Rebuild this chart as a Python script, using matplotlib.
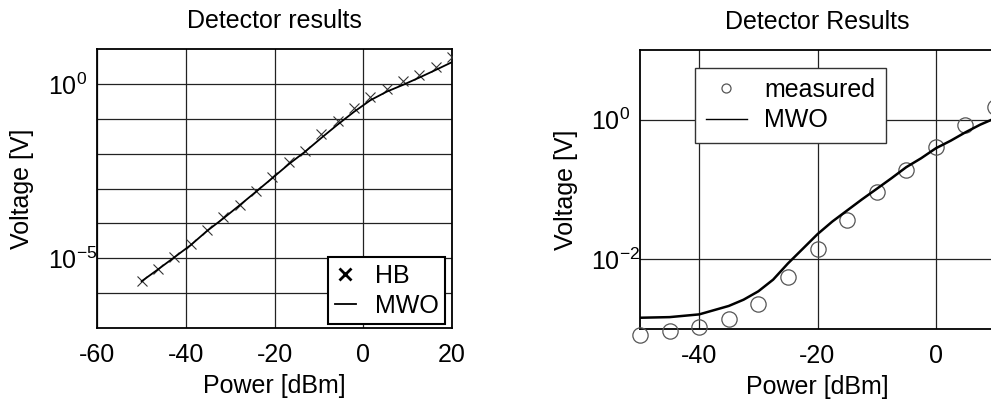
import matplotlib
matplotlib.use("Agg")
import matplotlib.pyplot as plt
from matplotlib.ticker import FixedLocator, FixedFormatter, NullLocator

# ---- left panel: harmonic-balance simulation vs. MWO --------------------
hb_power = [-50.0, -46.3, -42.6, -38.9, -35.3, -31.6, -27.9, -24.2, -20.5, -16.8,
            -13.2, -9.5, -5.8, -2.1, 1.6, 5.3, 8.9, 12.6, 16.3, 20.0]
hb_voltage = [2.3e-6, 4.9e-6, 1.12e-5, 2.57e-5, 6.3e-5, 1.51e-4, 3.47e-4, 8.5e-4,
              2.14e-3, 5.6e-3, 1.17e-2, 3.55e-2, 8.5e-2, 0.20, 0.43, 0.71, 1.17,
              1.82, 3.1, 5.75]
mwo_left_voltage = [2.19e-6, 4.8e-6, 1.07e-5, 2.4e-5, 6.0e-5, 1.38e-4, 3.31e-4,
                    8.1e-4, 2.0e-3, 5.0e-3, 1.12e-2, 2.8e-2, 6.8e-2, 0.158, 0.34,
                    0.60, 0.93, 1.51, 2.5, 4.2]

# ---- right panel: measured detector output vs. MWO ----------------------
meas_power = [-50, -45, -40, -35, -30, -25, -20, -15, -10, -5, 0, 5, 10]
meas_voltage = [8.3e-4, 9.3e-4, 1.07e-3, 1.38e-3, 2.3e-3, 5.5e-3, 1.41e-2, 3.7e-2,
                9.3e-2, 0.19, 0.41, 0.85, 1.51]
mwo_right_power = [-50, -45, -40, -35, -32.5, -30, -27.5, -25, -22.5, -20, -17.5,
                   -15, -12.5, -10, -7.5, -5, -2.5, 0, 2.5, 5, 7.5, 10]
mwo_right_voltage = [1.45e-3, 1.48e-3, 1.62e-3, 2.14e-3, 2.63e-3, 3.47e-3, 5.1e-3,
                     8.7e-3, 1.41e-2, 2.29e-2, 3.47e-2, 5.0e-2, 7.2e-2, 0.102, 0.145,
                     0.209, 0.28, 0.39, 0.50, 0.66, 0.85, 1.05]

left_xticks = [-60, -40, -20, 0, 20]
left_yticks = [1e-6, 1e-5, 1e-4, 1e-3, 1e-2, 1e-1, 1e0]
left_yticklabels = ["", r"$\mathregular{10^{-5}}$", "", "", "", "", r"$\mathregular{10^{0}}$"]
right_xticks = [-40, -20, 0]
right_yticks = [1e-2, 1e0]
right_yticklabels = [r"$\mathregular{10^{-2}}$", r"$\mathregular{10^{0}}$"]

plt.rcParams["font.family"] = ["Liberation Sans", "DejaVu Sans"]
plt.rcParams["font.size"] = 18
plt.rcParams["axes.unicode_minus"] = False
plt.rcParams["mathtext.fontset"] = "custom"
plt.rcParams["mathtext.rm"] = "Liberation Sans"

W, H = 991, 403
fig = plt.figure(figsize=(W / 100, H / 100), dpi=100)
ax1 = fig.add_axes([97.3 / W, (H - 328) / H, 354.7 / W, 279 / H])
ax2 = fig.add_axes([640 / W, (H - 329) / H, 355 / W, 279 / H])

grid_kw = dict(color="#222222", linewidth=0.9)

# left panel
ax1.plot(hb_power, hb_voltage, linestyle="none", marker="x", markersize=7,
         markeredgewidth=0.8, color="#333333", label="HB", zorder=3)
ax1.plot(hb_power, mwo_left_voltage, color="black", linewidth=1.3,
         label="MWO", zorder=3)
ax1.set_yscale("log")
ax1.set_xlim(-60, 20)
ax1.set_ylim(1e-7, 1e1)
ax1.xaxis.set_major_locator(FixedLocator(left_xticks))
ax1.yaxis.set_major_locator(FixedLocator(left_yticks))
ax1.yaxis.set_major_formatter(FixedFormatter(left_yticklabels))
ax1.yaxis.set_minor_locator(NullLocator())
ax1.set_title("Detector results", pad=15, fontsize=18)
ax1.set_xlabel("Power [dBm]")
ax1.set_ylabel("Voltage [V]")
ax1.xaxis.set_label_coords(0.5, -0.165)
ax1.yaxis.set_label_coords(-0.178, 0.5)
leg1 = ax1.legend(loc="lower right", bbox_to_anchor=(0.980, 0.014),
                  borderaxespad=0, fancybox=False, framealpha=1,
                  edgecolor="black", handlelength=0.87, handletextpad=0.74,
                  borderpad=0.25, labelspacing=0.25)
leg1.get_frame().set_linewidth(1.5)
leg1.legend_handles[0].set_markersize(9)
leg1.legend_handles[0].set_markeredgewidth(2)
leg1.legend_handles[0].set_color("black")

# right panel
ax2.plot(meas_power, meas_voltage, linestyle="none", marker="o", markersize=11,
         markerfacecolor="none", markeredgecolor="#555555", markeredgewidth=0.9,
         label="measured", zorder=3, clip_on=False)
ax2.plot(mwo_right_power, mwo_right_voltage, color="black", linewidth=1.8,
         label="MWO", zorder=3)
ax2.set_yscale("log")
ax2.set_xlim(-50, 10)
ax2.set_ylim(1e-3, 1e1)
ax2.xaxis.set_major_locator(FixedLocator(right_xticks))
ax2.yaxis.set_major_locator(FixedLocator(right_yticks))
ax2.yaxis.set_major_formatter(FixedFormatter(right_yticklabels))
ax2.yaxis.set_minor_locator(NullLocator())
ax2.set_title("Detector Results", pad=15, fontsize=18)
ax2.set_xlabel("Power [dBm]")
ax2.set_ylabel("Voltage [V]")
ax2.xaxis.set_label_coords(0.5, -0.165)
ax2.yaxis.set_label_coords(-0.175, 0.5)
leg2 = ax2.legend(loc="upper left", bbox_to_anchor=(0.155, 0.9366),
                  borderaxespad=0, fancybox=False, framealpha=1,
                  edgecolor="#333333", handlelength=1.65, handletextpad=0.7,
                  borderpad=0.42, labelspacing=0.25)
leg2.get_frame().set_linewidth(1.0)
leg2.legend_handles[0].set_markersize(6.5)
leg2.legend_handles[1].set_linewidth(1.0)

for ax in (ax1, ax2):
    ax.set_axisbelow(True)
    ax.grid(True, which="major", **grid_kw)
    ax.tick_params(axis="both", which="both", length=0)
    ax.tick_params(axis="x", pad=10.5)
    ax.tick_params(axis="y", pad=35.5)
    for lbl in ax.get_yticklabels():
        lbl.set_horizontalalignment("left")
    for sp in ax.spines.values():
        sp.set_linewidth(1.3)
        sp.set_color("black")

fig.savefig("out.png", dpi=100)
